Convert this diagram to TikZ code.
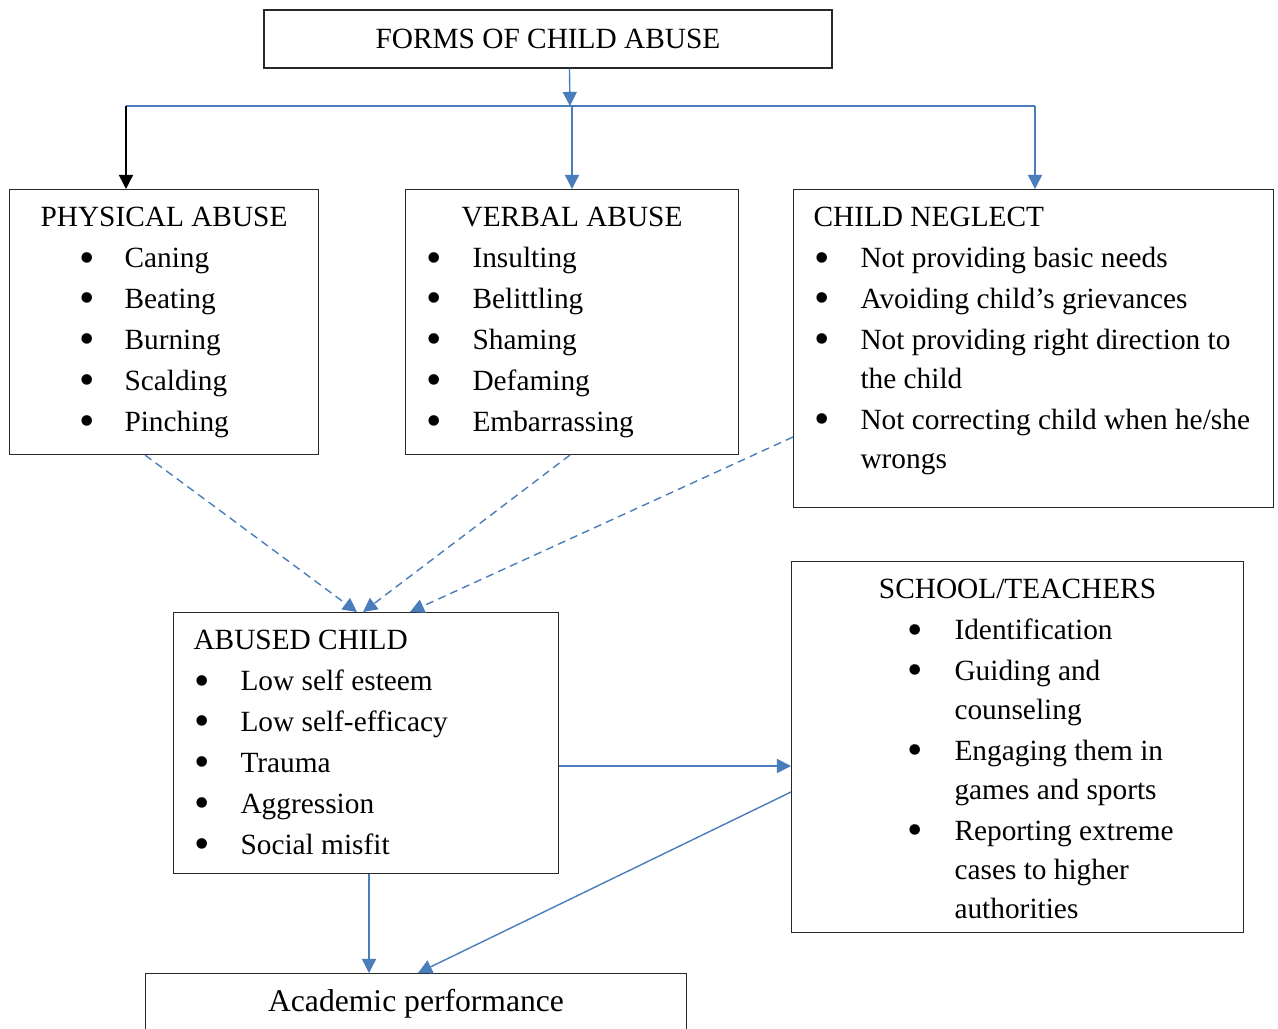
\documentclass[tikz,border=0pt]{standalone}
\usepackage{fontspec}
\setmainfont{Liberation Serif}
\usetikzlibrary{arrows.meta,calc}

\definecolor{linkblue}{RGB}{74,126,187}
\definecolor{edgegray}{RGB}{40,40,40}

\newlength\px \setlength\px{0.02cm}
\newlength\bulx \newlength\txtx
% one bullet point with hanging lines
\newcommand{\bigdot}{\raisebox{-2.6pt}{\scalebox{1.5}{\textbullet}}}
\newcommand{\bul}[1]{\par\hangindent=\txtx\hangafter=1\noindent
    \hspace*{\bulx}\makebox[\dimexpr\txtx-\bulx\relax][l]{\bigdot}#1}
% contents of a list box: width, height, bullet inset, text inset, body
\newcommand{\listbody}[5]{\parbox[t][#2\px][t]{#1\px}{%
    \fontsize{16.7}{22.2}\selectfont\setlength\parskip{1.1pt}%
    \setlength\bulx{#3\px}\setlength\txtx{#4\px}\raggedright #5}}
\newcommand{\midtitle}[1]{\noindent\makebox[\linewidth]{\rule{0pt}{37\px}#1}}
\newcommand{\lefttitle}[1]{\noindent\hspace*{20\px}\rule{0pt}{37\px}#1}

\tikzset{
    listbox/.style={draw=edgegray, line width=0.6pt, inner sep=0pt, anchor=north west},
    blue line/.style={draw=linkblue, line width=0.8pt},
    blue arrow/.style={blue line, -{Triangle[width=8pt,length=8pt]}},
    dash arrow/.style={blue arrow, dash pattern=on 4.5pt off 3pt}
}

\begin{document}
\begin{tikzpicture}[x=0.02cm, y=-0.02cm]
    \useasboundingbox (0,0) rectangle (1278,1028);
    \clip (0,0) rectangle (1278,1028);

    \node[draw=edgegray,
        line width=0.6pt,
        minimum width=568\px,
        minimum height=58\px,
        font=\fontsize{16.7}{20}\selectfont
    ] (title) at (548,39) {FORMS OF CHILD ABUSE};

    \node[listbox] (physical) at (9,189) {\listbody{309}{265}{70}{115}{%
        \midtitle{PHYSICAL ABUSE}
        \bul{Caning}
        \bul{Beating}
        \bul{Burning}
        \bul{Scalding}
        \bul{Pinching}}};
    \node[listbox] (verbal) at (405,189) {\listbody{333}{265}{21}{67}{%
        \midtitle{VERBAL ABUSE}
        \bul{Insulting}
        \bul{Belittling}
        \bul{Shaming}
        \bul{Defaming}
        \bul{Embarrassing}}};
    \node[listbox] (neglect) at (793,189) {\listbody{480}{318}{21}{67}{%
        \lefttitle{CHILD NEGLECT}
        \bul{Not providing basic needs}
        \bul{\mbox{Avoiding child’s grievances}}
        \bul{\mbox{Not providing right direction to}\newline\mbox{the child}}
        \bul{\mbox{Not correcting child when he/she}\newline\mbox{wrongs}}}};
    \node[listbox] (abused) at (173,612) {\listbody{385}{261}{21}{67}{%
        \lefttitle{ABUSED CHILD}
        \bul{Low self esteem}
        \bul{Low self-efficacy}
        \bul{Trauma}
        \bul{Aggression}
        \bul{Social misfit}}};
    \node[listbox] (school) at (791,561) {\listbody{452}{371}{116}{163}{%
        \midtitle{SCHOOL/TEACHERS}
        \bul{Identification}
        \bul{\mbox{Guiding and}\newline\mbox{counseling}}
        \bul{\mbox{Engaging them in}\newline\mbox{games and sports}}
        \bul{\mbox{Reporting extreme}\newline\mbox{cases to higher}\newline\mbox{authorities}}}};

    \node[listbox,
        minimum width=541\px,
        minimum height=60\px,
        font=\fontsize{18}{21}\selectfont
    ] (perf) at (145,973) {Academic performance};

    % branching from the title
    \coordinate (split) at (570,106);
    \coordinate (bl) at (126,106);
    \coordinate (vm) at (572,106);
    \coordinate (br) at (1035,106);
    \draw[blue arrow] ($(title.south west)+(306,0)$) -- (split);
    \draw[blue line] (bl) -- (br);
    \draw[-{Triangle[width=8pt,length=8pt]}, line width=0.8pt] (bl) -- ($(physical.north west)+(117,0)$);
    \draw[blue arrow] (vm) -- ($(verbal.north west)+(167,0)$);
    \draw[blue arrow] (br) -- ($(neglect.north west)+(242,0)$);

    % forms of abuse lead to the abused child
    \draw[dash arrow] ($(physical.south west)+(136,0)$) -- ($(abused.north west)+(184,0)$);
    \draw[dash arrow] ($(verbal.south west)+(165,0)$) -- ($(abused.north west)+(190,0)$);
    \draw[dash arrow] ($(neglect.north west)+(0,248)$) -- ($(abused.north west)+(237,0)$);

    \draw[blue arrow] ($(abused.north east)+(0,154)$) -- ($(school.north west)+(0,205)$);
    \draw[blue arrow] ($(school.north west)+(0,231)$) -- ($(perf.north west)+(273,0)$);
    \draw[blue arrow] ($(abused.south west)+(196,0)$) -- ($(perf.north west)+(224,0)$);
\end{tikzpicture}
\end{document}
